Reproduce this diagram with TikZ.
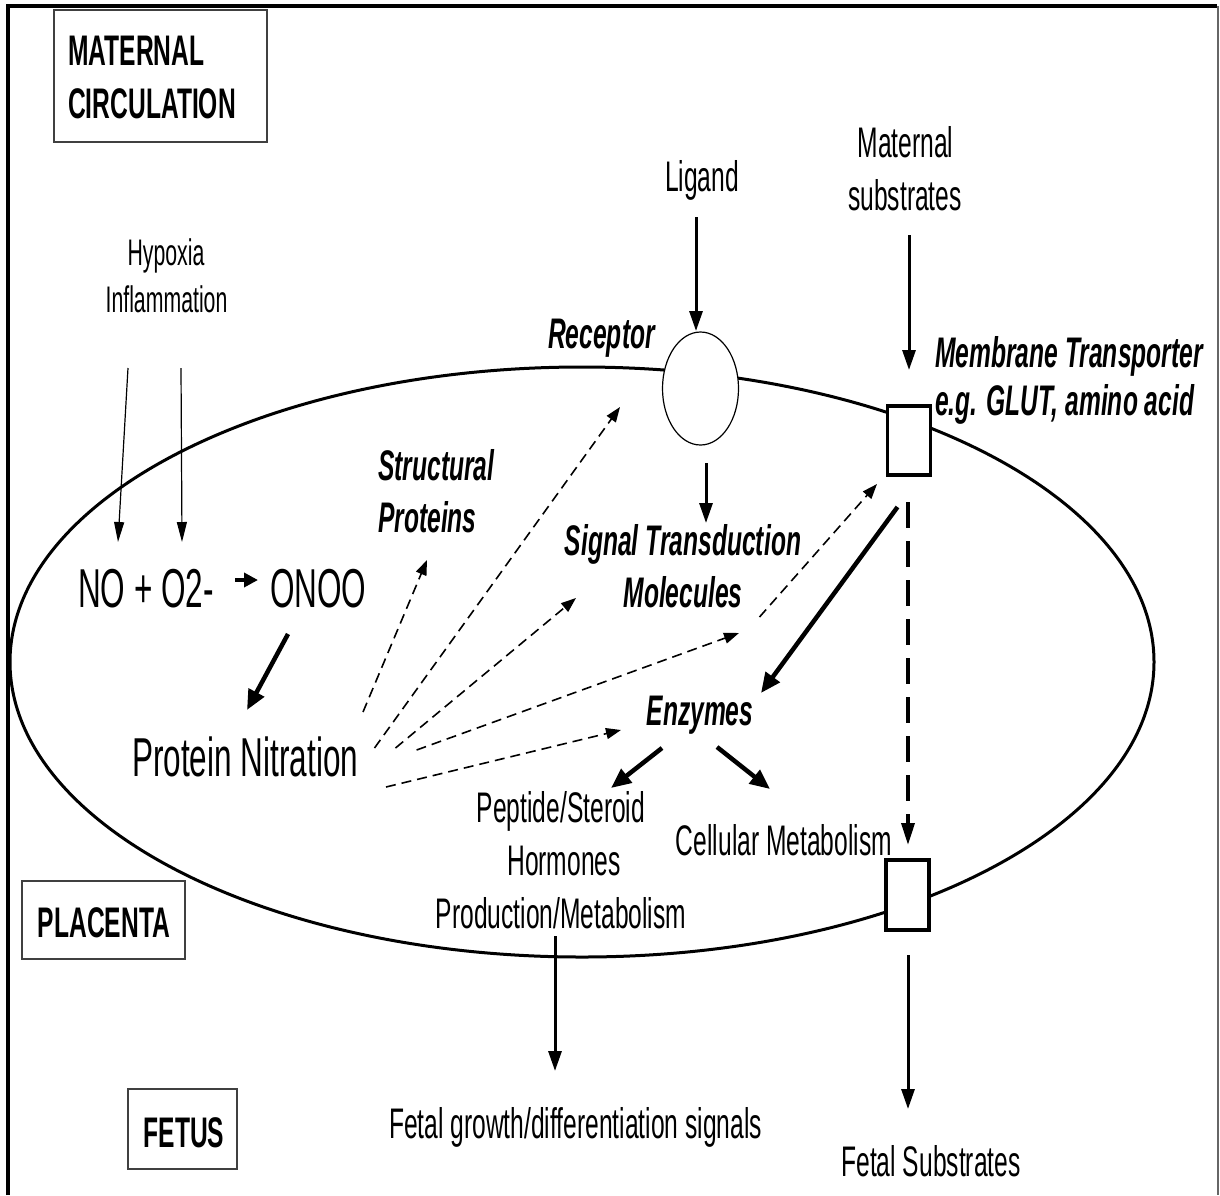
\documentclass[tikz,border=0pt]{standalone}
\usepackage{fontspec}
\setmainfont{Liberation Sans}[FakeStretch=0.575]
\usetikzlibrary{arrows.meta,shapes.geometric}
\tikzset{
  lab/.style={inner sep=0pt, anchor=base, font=\fontsize{42.8}{50}\selectfont},
  labw/.style={lab, anchor=base west},
  bilab/.style={inner sep=0pt, anchor=base, font=\fontsize{42.8}{50}\selectfont\bfseries\itshape},
  bilabw/.style={bilab, anchor=base west},
  boxlab/.style={inner sep=0pt, anchor=base, font=\fontsize{42.8}{50}\selectfont\bfseries},
  biglab/.style={inner sep=0pt, anchor=base west, font=\fontsize{54.8}{62}\selectfont},
  smalllab/.style={inner sep=0pt, anchor=base, font=\fontsize{37}{44}\selectfont},
  regionbox/.style={draw=black!75, line width=1.5pt, fill=none, inner sep=0pt},
  transporter/.style={draw, fill=white, line width=3.2pt, minimum width=43pt, minimum height=69pt, inner sep=0pt},
  thinarr/.style={line width=1.2pt, -{Triangle[length=20pt,width=10pt]}},
  medarr/.style={line width=3pt, -{Triangle[length=20pt,width=13pt]}},
  thickarr/.style={line width=4.5pt, -{Triangle[length=20pt,width=17pt]}},
  dasharr/.style={line width=1.6pt, dash pattern=on 10pt off 6pt, -{Triangle[length=15pt,width=11pt]}},
  bigdash/.style={line width=3.5pt, dash pattern=on 26pt off 13pt, -{Triangle[length=22pt,width=13pt]}},
}
\begin{document}
\begin{tikzpicture}[x=1pt,y=-1pt]
\useasboundingbox (0,0) rectangle (1220,1195);
% frame
\draw[line width=4pt] (8,1195) -- (8,6) -- (1217,6);
\draw[black!60, line width=1.2pt] (1218,6) -- (1218,1195);

% placenta cell
\draw[line width=3pt] (582,662) ellipse [x radius=572pt, y radius=295pt];
\node[draw, ellipse, fill=white, line width=1.2pt, minimum width=76pt, minimum height=113pt, inner sep=0pt] (receptor) at (700.5,388.5) {};
\node[transporter] (tup) at (909,440.5) {};
\node[transporter, minimum height=70pt] (tdown) at (907.5,895) {};

% region boxes
\node[regionbox, minimum width=213pt, minimum height=132pt] (matbox) at (160.5,76) {};
\node[boxlab, anchor=base west] (mat1) at (68,65) {MATERNAL};
\node[boxlab, anchor=base west] (mat2) at (68,118) {CIRCULATION};
\node[regionbox, minimum width=163pt, minimum height=78pt] (plbox) at (103.5,920) {};
\node[boxlab] (placenta) at (104,937) {PLACENTA};
\node[regionbox, minimum width=109pt, minimum height=80pt] (fbox) at (182.5,1129) {};
\node[boxlab] (fetus) at (184,1147) {FETUS};

% texts
\node[smalllab] (hyp) at (166,265) {Hypoxia};
\node[smalllab] (infl) at (166.5,312) {Inflammation};
\node[biglab] (no) at (78,607) {NO + O2-};
\node[biglab] (onoo) at (270,607) {ONOO};
\node[biglab] (pn) at (132,776) {Protein Nitration};
\node[lab] (ligand) at (702,191) {Ligand};
\node[lab] (mat) at (905.5,157) {Maternal};
\node[lab] (subs) at (905,210) {substrates};
\node[bilab] (rec) at (601.5,348) {Receptor};
\node[bilabw] (mt1) at (935,367) {Membrane Transporter};
\node[bilabw] (mt2) at (935,415) {e.g. GLUT, amino acid};
\node[bilabw] (sp1) at (378,480) {Structural};
\node[bilabw] (sp2) at (378,532) {Proteins};
\node[bilab] (st1) at (683,555) {Signal Transduction};
\node[bilab] (st2) at (683,607) {Molecules};
\node[bilab] (enz) at (700,725) {Enzymes};
\node[lab] (pep1) at (561,822) {Peptide/Steroid};
\node[lab] (pep2) at (564,875) {Hormones};
\node[lab] (pep3) at (561,928) {Production/Metabolism};
\node[lab] (cell) at (784,855) {Cellular Metabolism};
\node[lab] (fgs) at (575.5,1138) {Fetal growth/differentiation signals};
\node[lab] (fsub) at (931,1176) {Fetal Substrates};

% connector end points
\coordinate (h1s) at (128,368); \coordinate (h1e) at (118,542);
\coordinate (h2s) at (181,368); \coordinate (h2e) at (182,542);
\coordinate (nos) at (235,580); \coordinate (noe) at (258,580);
\coordinate (ons) at (288,634); \coordinate (one) at (247,710);
\coordinate (lgs) at (696,217); \coordinate (lge) at (696,331);
\coordinate (mss) at (909,235); \coordinate (mse) at (909,370);
\coordinate (rss) at (706,463); \coordinate (rse) at (706,523);
\coordinate (tes) at (897.5,507); \coordinate (tee) at (761,693);
\coordinate (vds) at (908,502); \coordinate (vde) at (908,845);
\coordinate (lws) at (908,955); \coordinate (lwe) at (908,1109);
\coordinate (prs) at (555,936); \coordinate (pre) at (555,1071);
\coordinate (eps) at (662,748); \coordinate (epe) at (611,788);
\coordinate (ecs) at (717,747); \coordinate (ece) at (770,789);
\coordinate (d1s) at (363,712); \coordinate (d1e) at (427,560);
\coordinate (d2s) at (374.5,748); \coordinate (d2e) at (620,407);
\coordinate (d3s) at (395.5,748); \coordinate (d3e) at (576,598);
\coordinate (d4s) at (416.6,750); \coordinate (d4e) at (739,633);
\coordinate (d5s) at (386,787); \coordinate (d5e) at (621,730);
\coordinate (d6s) at (759.5,617); \coordinate (d6e) at (877,484);

% connectors
\draw[thinarr] (h1s) -- (h1e);
\draw[thinarr] (h2s) -- (h2e);
\draw[line width=4pt, -{Triangle[length=14pt,width=14pt]}] (nos) -- (noe);
\draw[thickarr] (ons) -- (one);
\draw[medarr] (lgs) -- (lge);
\draw[medarr] (mss) -- (mse);
\draw[medarr] (rss) -- (rse);
\draw[thickarr] (tes) -- (tee);
\draw[bigdash] (vds) -- (vde);
\draw[medarr] (lws) -- (lwe);
\draw[medarr] (prs) -- (pre);
\draw[thickarr] (eps) -- (epe);
\draw[thickarr] (ecs) -- (ece);
\draw[dasharr] (d1s) -- (d1e);
\draw[dasharr] (d2s) -- (d2e);
\draw[dasharr] (d3s) -- (d3e);
\draw[dasharr] (d4s) -- (d4e);
\draw[dasharr] (d5s) -- (d5e);
\draw[dasharr] (d6s) -- (d6e);
\end{tikzpicture}
\end{document}
